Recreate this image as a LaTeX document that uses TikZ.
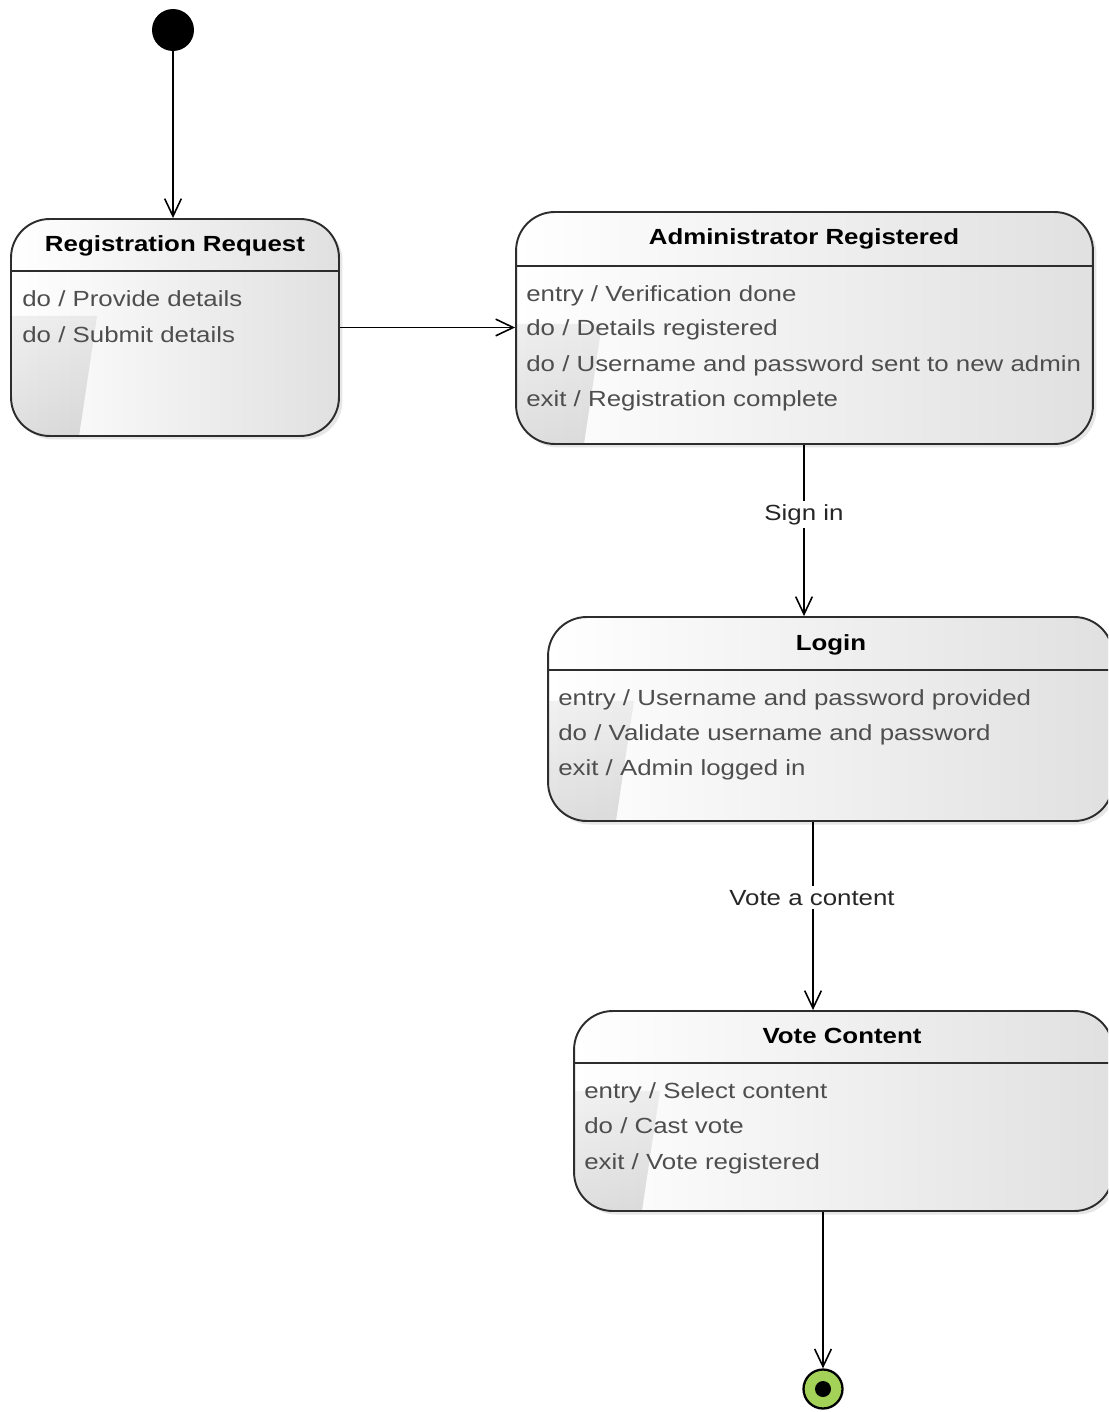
\documentclass[tikz,border=0pt]{standalone}
\usepackage{fontspec}
\setmainfont{Liberation Sans}[FakeStretch=1.18]
\usetikzlibrary{arrows.meta,shadows,fadings}
\definecolor{bodytext}{RGB}{78,78,78}
\definecolor{edgegray}{RGB}{45,45,45}
\definecolor{finalgreen}{RGB}{164,210,88}

\begin{document}
\begin{tikzpicture}[x=0.02cm,y=-0.02cm,
  state/.style={draw=edgegray, line width=1.1pt, rounded corners=22pt, inner sep=0pt,
    left color=white, right color=gray!24,
    drop shadow={opacity=0.2, shadow xshift=2pt, shadow yshift=-2pt},
    path picture={\fill[sharp corners, draw=none, black, fill opacity=0.13, path fading=north]
      (path picture bounding box.south west)
      -- ([shift={(68,0)}]path picture bounding box.south west)
      -- ([shift={(86,-120)}]path picture bounding box.south west)
      -- ([shift={(0,-120)}]path picture bounding box.south west) -- cycle;}},
  sep/.style={draw=edgegray, line width=1.1pt},
  title/.style={anchor=base, inner sep=0pt, font=\fontsize{12.47}{15}\selectfont\bfseries},
  body/.style={anchor=base west, inner sep=0pt, text=bodytext, font=\fontsize{12.47}{15}\selectfont},
  trlabel/.style={anchor=base, fill=white, inner sep=2pt, text=black!85, font=\fontsize{12.47}{15}\selectfont},
  arr/.style={line width=0.9pt, -{Straight Barb[length=10pt,width=9.5pt,line width=0.9pt]}}]

\useasboundingbox (0,0) rectangle (1108,1412);
\clip (0,0) rectangle (1108,1412);

% initial pseudo-state
\node[circle, fill=black, inner sep=0pt, minimum size=0.84cm] (init) at (173,30) {};

% states
\node[state, minimum width=6.56cm, minimum height=4.34cm] (reg) at (175,327.5) {};
\node[state, minimum width=11.54cm, minimum height=4.64cm] (admin) at (804.5,328) {};
\node[state, minimum width=11.3cm, minimum height=4.08cm] (login) at (830.5,719) {};
\node[state, minimum width=10.78cm, minimum height=4.0cm] (vote) at (843.5,1111) {};

% compartment separators
\draw[sep] (reg.west |- 0,271) -- (reg.east |- 0,271);
\draw[sep] (admin.west |- 0,266) -- (admin.east |- 0,266);
\draw[sep] (login.west |- 0,670) -- (login.east |- 0,670);
\draw[sep] (vote.west |- 0,1063) -- (vote.east |- 0,1063);

% Registration Request
\node[title] (regT) at (175,252) {Registration Request};
\node[body] (reg1) at (22,307) {do / Provide details};
\node[body] (reg2) at (22,342) {do / Submit details};

% Administrator Registered
\node[title] (adminT) at (804,245) {Administrator Registered};
\node[body] (admin1) at (526,301) {entry / Verification done};
\node[body] (admin2) at (526,336) {do / Details registered};
\node[body] (admin3) at (526,371) {do / Username and password sent to new admin};
\node[body] (admin4) at (526,406) {exit / Registration complete};

% Login
\node[title] (loginT) at (831,650) {Login};
\node[body] (login1) at (558,705) {entry / Username and password provided};
\node[body] (login2) at (558,740) {do / Validate username and password};
\node[body] (login3) at (558,775) {exit / Admin logged in};

% Vote Content
\node[title] (voteT) at (842,1043) {Vote Content};
\node[body] (vote1) at (584,1098) {entry / Select content};
\node[body] (vote2) at (584,1133) {do / Cast vote};
\node[body] (vote3) at (584,1169) {exit / Vote registered};

% final state
\node[circle, draw=black, line width=1.3pt, fill=finalgreen, inner sep=0pt, minimum size=0.78cm] (final) at (823,1389) {};
\fill[black] (final.center) circle (0.16cm);

% transitions
\coordinate (x2) at (813,0);
\draw[arr] (init) -- (init |- reg.north);
\draw[arr] (reg.east) -- (admin.west |- reg.east);
\draw[arr] (admin.south -| 804,0) -- (login.north -| 804,0);
\draw[arr] (x2 |- login.south) -- (x2 |- vote.north);
\draw[arr] (vote.south -| final) -- (final.north);

% transition labels
\node[trlabel] (lblSign) at (804,520) {Sign in};
\node[trlabel] (lblVote) at (812,905) {Vote a content};

\end{tikzpicture}
\end{document}
